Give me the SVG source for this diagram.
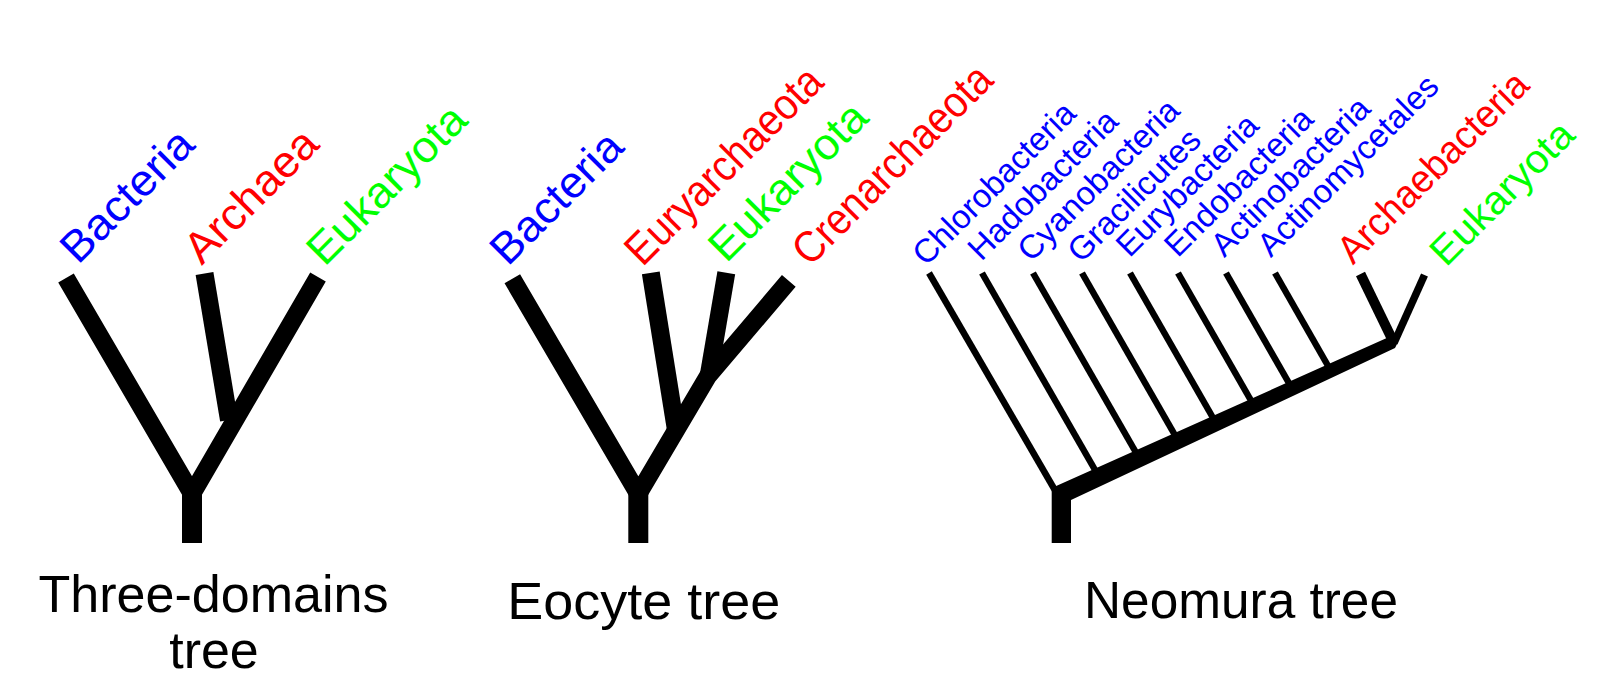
<svg xmlns="http://www.w3.org/2000/svg" width="1600" height="700" viewBox="0 0 1600 700">
<style>
.br{fill:none;stroke:#000;stroke-linecap:butt;stroke-linejoin:miter;stroke-miterlimit:6}
.w18{stroke-width:18}
.thin{stroke-width:6.5}
.lbl{font-family:"Liberation Sans",Arial,sans-serif}
.big{font-size:44px}
.mid{font-size:39px}
.sm{font-size:33px}
.cap{font-family:"Liberation Sans",Arial,sans-serif;font-size:52px;fill:#000;text-anchor:middle}
.b{fill:#0000ff}.r{fill:#ff0000}.g{fill:#00ff00}
</style>
<rect width="1600" height="700" fill="#fff"/>
<g id="connectors">
  <!-- Three-domains tree -->
  <path class="br w18" d="M66,278 L192,494 L318,277"/>
  <rect x="182" y="490" width="20" height="53" fill="#000"/>
  <path class="br w18" d="M204.5,273.5 L229,420"/>
  <!-- Eocyte tree -->
  <path class="br w18" d="M512.3,278.7 L638.3,494 L707.9,376.2 L788.8,280.9"/>
  <rect x="628.3" y="490" width="20" height="53" fill="#000"/>
  <path class="br w18" d="M650.8,272.8 L676,430"/>
  <path class="br w18" d="M726.3,272.8 L709,374"/>
  <!-- Neomura tree -->
  <path class="br thin" d="M929,273 L1056,492"/>
  <path class="br thin" d="M982,273 L1096.8,473"/>
  <path class="br thin" d="M1033,273 L1137.4,455"/>
  <path class="br thin" d="M1082,273 L1176.6,438"/>
  <path class="br thin" d="M1130,273 L1214.8,421"/>
  <path class="br thin" d="M1178,273 L1253,404"/>
  <path class="br thin" d="M1226,273 L1291.2,387"/>
  <path class="br thin" d="M1275,273 L1330.4,370"/>
  <path class="br" stroke-width="10" d="M1360.5,274 L1393,341"/>
  <path class="br" stroke-width="7.5" d="M1424.5,275 L1394,343"/>
  <path fill="#000" d="M1051.7,543 L1051.7,488 L1389,337 L1398,342 L1395,348 L1071,500 L1071,543 Z"/>
</g>
<g id="node-td-bacteria"><text class="lbl big b" transform="translate(78,265.5) rotate(-45)" textLength="168" lengthAdjust="spacingAndGlyphs">Bacteria</text></g>
<g id="node-td-archaea"><text class="lbl big r" transform="translate(201.7,266) rotate(-45)" textLength="169" lengthAdjust="spacingAndGlyphs">Archaea</text></g>
<g id="node-td-eukaryota"><text class="lbl big g" transform="translate(324.6,267.4) rotate(-45)" textLength="205" lengthAdjust="spacingAndGlyphs">Eukaryota</text></g>
<g id="node-ec-bacteria"><text class="lbl big b" transform="translate(507.8,267.2) rotate(-45)" textLength="167" lengthAdjust="spacingAndGlyphs">Bacteria</text></g>
<g id="node-ec-euryarchaeota"><text class="lbl big r" transform="translate(642.6,267.4) rotate(-45)" textLength="259" lengthAdjust="spacingAndGlyphs">Euryarchaeota</text></g>
<g id="node-ec-eukaryota"><text class="lbl big g" transform="translate(726.2,264.1) rotate(-45)" textLength="204" lengthAdjust="spacingAndGlyphs">Eukaryota</text></g>
<g id="node-ec-crenarchaeota"><text class="lbl big r" transform="translate(810,267.5) rotate(-45)" textLength="262" lengthAdjust="spacingAndGlyphs">Crenarchaeota</text></g>
<g id="node-nm-chlorobacteria"><text class="lbl sm b" transform="translate(926,267) rotate(-45)">Chlorobacteria</text></g>
<g id="node-nm-hadobacteria"><text class="lbl sm b" transform="translate(981.3,262) rotate(-45)">Hadobacteria</text></g>
<g id="node-nm-cyanobacteria"><text class="lbl sm b" transform="translate(1031,263) rotate(-45)">Cyanobacteria</text></g>
<g id="node-nm-gracilicutes"><text class="lbl sm b" transform="translate(1081,264) rotate(-45)">Gracilicutes</text></g>
<g id="node-nm-eurybacteria"><text class="lbl sm b" transform="translate(1129.5,258.6) rotate(-45)">Eurybacteria</text></g>
<g id="node-nm-endobacteria"><text class="lbl sm b" transform="translate(1177.7,258.6) rotate(-45)">Endobacteria</text></g>
<g id="node-nm-actinobacteria"><text class="lbl sm b" transform="translate(1224.3,258.3) rotate(-45)">Actinobacteria</text></g>
<g id="node-nm-actinomycetales"><text class="lbl sm b" transform="translate(1270.7,258.3) rotate(-45)">Actinomycetales</text></g>
<g id="node-nm-archaebacteria"><text class="lbl mid r" transform="translate(1353,265.5) rotate(-45)" textLength="252" lengthAdjust="spacingAndGlyphs">Archaebacteria</text></g>
<g id="node-nm-eukaryota"><text class="lbl g" font-size="40" transform="translate(1446,268) rotate(-45)" textLength="185" lengthAdjust="spacingAndGlyphs">Eukaryota</text></g>
<g id="caption-three-domains"><text class="cap" x="213.5" y="612" textLength="350" lengthAdjust="spacingAndGlyphs">Three-domains</text><text class="cap" x="214" y="668">tree</text></g>
<g id="caption-eocyte"><text class="cap" x="643.8" y="619" textLength="273" lengthAdjust="spacingAndGlyphs">Eocyte tree</text></g>
<g id="caption-neomura"><text class="cap" x="1241" y="618" textLength="314" lengthAdjust="spacingAndGlyphs">Neomura tree</text></g>
</svg>
